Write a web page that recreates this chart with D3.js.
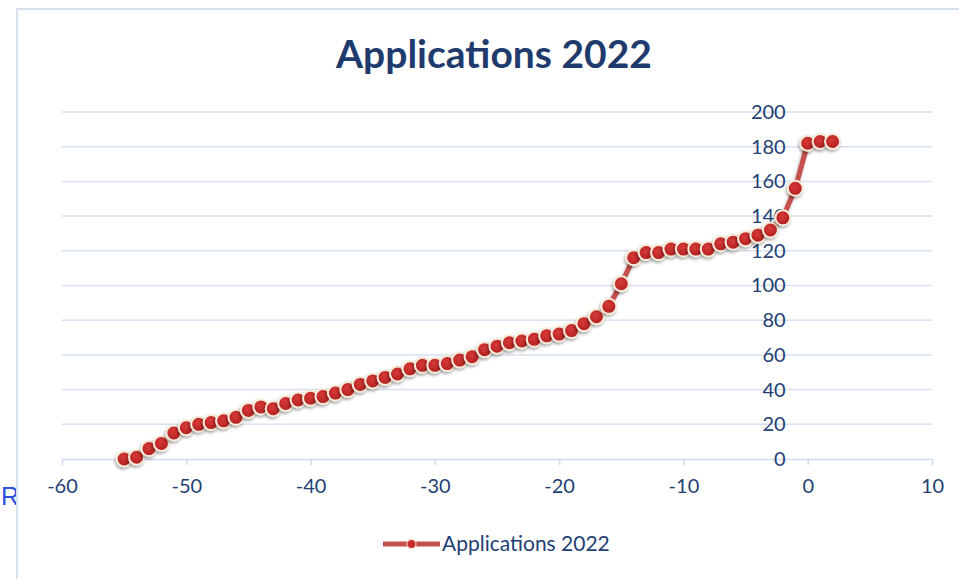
<!DOCTYPE html>
<html>
<head>
<meta charset="utf-8">
<script src="https://cdn.jsdelivr.net/npm/d3@7"></script>
<style>
  html, body { margin: 0; padding: 0; background: #fff; }
  svg { display: block; }
</style>
</head>
<body>
<div id="content"></div>
<script>
// values
const xValues = [-55, -54, -53, -52, -51, -50, -49, -48, -47, -46, -45, -44, -43, -42, -41, -40,
  -39, -38, -37, -36, -35, -34, -33, -32, -31, -30, -29, -28, -27, -26, -25, -24, -23, -22, -21,
  -20, -19, -18, -17, -16, -15, -14, -13, -12, -11, -10, -9, -8, -7, -6, -5, -4, -3, -2, -1, 0, 1, 2];
const yValues = [0, 1, 6, 9, 15, 18, 20, 21, 22, 24, 28, 30, 29, 32, 34, 35,
  36, 38, 40, 43, 45, 47, 49, 52, 54, 54, 55, 57, 59, 63, 65, 67, 68, 69, 71,
  72, 74, 78, 82, 88, 101, 116, 119, 119, 121, 121, 121, 121, 124, 125, 127, 129, 132, 139, 156, 182, 183, 183];
const xTicks = [-60, -50, -40, -30, -20, -10, 0, 10];
const yTicks = [0, 20, 40, 60, 80, 100, 120, 140, 160, 180, 200];
const seriesName = "Applications 2022";
const chartTitle = "Applications 2022";

const W = 959;
const H = 579;
const navy = "#233f73";
const lineRed = "#c4504d";

const data = xValues.map((x, i) => ({ x: x, y: yValues[i] }));

const svg = d3.select("#content").append("svg")
  .attr("width", W)
  .attr("height", H);

const defs = svg.append("defs");
const grad = defs.append("radialGradient").attr("id", "dot")
  .attr("cx", "45%").attr("cy", "40%").attr("r", "60%");
grad.append("stop").attr("offset", "0%").attr("stop-color", "#d83a38");
grad.append("stop").attr("offset", "100%").attr("stop-color", "#b01f1f");
const shadow = defs.append("filter").attr("id", "shadow")
  .attr("x", "-50%").attr("y", "-50%").attr("width", "200%").attr("height", "200%");
shadow.append("feDropShadow")
  .attr("dx", -1).attr("dy", 2).attr("stdDeviation", 1.6)
  .attr("flood-color", "#000").attr("flood-opacity", 0.35);

// stray letter left of the chart frame
svg.append("text")
  .attr("x", 1).attr("y", 505)
  .attr("font-family", "Liberation Sans, sans-serif")
  .attr("font-size", 25)
  .attr("fill", "#2c4fe0")
  .text("R");

// chart frame
svg.append("rect")
  .attr("x", 17).attr("y", 9)
  .attr("width", W).attr("height", H)
  .attr("fill", "#fff")
  .attr("stroke", "#d7e0ec")
  .attr("stroke-width", 2);

const x = d3.scaleLinear().domain([-60, 10]).range([62, 932]);
const y = d3.scaleLinear().domain([0, 200]).range([459, 112]);
const fmt = d => String(d);  // plain hyphen minus, as in the picture

// gridlines
svg.append("g")
  .selectAll("line")
  .data(yTicks.filter(d => d !== 0))
  .join("line")
  .attr("x1", x(-60)).attr("x2", x(10))
  .attr("y1", d => y(d)).attr("y2", d => y(d))
  .attr("stroke", "#d6e0ef")
  .attr("stroke-width", 1.5);

// x axis (crosses at y = 0)
const xAxis = svg.append("g")
  .attr("transform", `translate(0,${y(0)})`)
  .call(d3.axisBottom(x).tickValues(xTicks).tickFormat(fmt)
    .tickSize(6).tickPadding(14).tickSizeOuter(0));
xAxis.select(".domain").attr("stroke", "#d0dbeb").attr("stroke-width", 1.5);
xAxis.selectAll(".tick line").attr("stroke", "#d0dbeb").attr("stroke-width", 1.5);
xAxis.selectAll("text")
  .attr("fill", navy)
  .attr("font-family", "Lato, sans-serif")
  .attr("font-size", 20);

// y axis (crosses at x = 0), labels only
const yAxis = svg.append("g")
  .attr("transform", `translate(${x(0) - 22},0)`)
  .call(d3.axisLeft(y).tickValues(yTicks).tickFormat(fmt).tickSize(0).tickPadding(0));
yAxis.select(".domain").remove();
yAxis.selectAll("text")
  .attr("fill", navy)
  .attr("font-family", "Lato, sans-serif")
  .attr("font-size", 20);

// title
svg.append("text")
  .attr("x", 494).attr("y", 68)
  .attr("text-anchor", "middle")
  .attr("font-family", "Lato, sans-serif")
  .attr("font-weight", 700)
  .attr("font-size", 39)
  .attr("fill", "#1f3b6d")
  .text(chartTitle);

// series line
const line = d3.line().x(d => x(d.x)).y(d => y(d.y));
svg.append("path")
  .datum(data)
  .attr("d", line)
  .attr("fill", "none")
  .attr("stroke", lineRed)
  .attr("stroke-width", 5)
  .attr("stroke-linejoin", "round")
  .attr("filter", "url(#shadow)");

// markers
svg.append("g")
  .selectAll("circle")
  .data(data)
  .join("circle")
  .attr("cx", d => x(d.x))
  .attr("cy", d => y(d.y))
  .attr("r", 7.5)
  .attr("fill", "url(#dot)")
  .attr("stroke", "#f7ead9")
  .attr("stroke-width", 2)
  .attr("filter", "url(#shadow)");

// legend
const lg = svg.append("g").attr("transform", "translate(383,544)");
lg.append("line")
  .attr("x1", 0).attr("x2", 57)
  .attr("y1", 0).attr("y2", 0)
  .attr("stroke", lineRed)
  .attr("stroke-width", 5);
lg.append("circle")
  .attr("cx", 28.5).attr("cy", 0).attr("r", 4.5)
  .attr("fill", "#c62a2a")
  .attr("stroke", "#f7ead9")
  .attr("stroke-width", 1);
lg.append("text")
  .attr("x", 59).attr("y", 0)
  .attr("dy", "0.35em")
  .attr("font-family", "Lato, sans-serif")
  .attr("font-size", 21)
  .attr("fill", navy)
  .text(seriesName);
</script>
</body>
</html>
